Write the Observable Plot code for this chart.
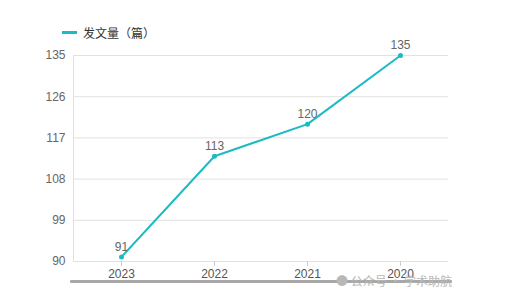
<!DOCTYPE html>
<html><head><meta charset="utf-8">
<script src="https://cdn.jsdelivr.net/npm/d3@7"></script>
<script src="https://cdn.jsdelivr.net/npm/@observablehq/plot@0.6"></script>
<style>
body{margin:0;background:#fff;font-family:"Liberation Sans","Noto Sans CJK SC",sans-serif;}
#wrap{position:relative;width:515px;height:304px;}
#legend{position:absolute;left:62px;top:24px;font-size:12px;color:#333;display:flex;align-items:center;font-family:"Noto Sans CJK SC",sans-serif;}
#legend .sw{width:15px;height:3px;background:#1cbac4;margin-right:6px;}
#bar{position:absolute;left:70px;top:280px;width:382px;height:3px;background:#a8a8a8;border-radius:1px;}
#wm{position:absolute;left:336px;top:272px;font-size:12px;color:#b8b8b8;font-family:"Noto Sans CJK SC",sans-serif;}
</style></head><body>
<div id="wrap">
<div id="legend"><div class="sw"></div><span>发文量（篇）</span></div>
<div id="bar"></div>
<div id="wm">● 公众号 · 学术助航</div>
</div>
<script>
const years = ["2023","2022","2021","2020"];
const counts = [91,113,120,135];
const yTicks = [90,99,108,117,126,135];
const seriesName = "发文量（篇）";
const data = years.map((y,i)=>({year:y,count:counts[i]}));
const color = "#1cbac4";
const chart = Plot.plot({
  width:515, height:304,
  marginLeft:73, marginRight:67, marginTop:55, marginBottom:43,
  style:{fontFamily:"Liberation Sans, Noto Sans CJK SC, sans-serif",fontSize:"12px",background:"transparent"},
  x:{type:"point",domain:years,padding:0.5,label:null},
  y:{domain:[90,135],ticks:yTicks,label:null},
  marks:[
    Plot.ruleY(yTicks,{stroke:"#e2e2e2",strokeWidth:1}),
    Plot.frame({anchor:"left",stroke:"#e2e2e2"}),
    Plot.axisY({ticks:yTicks,tickSize:0,tickPadding:8,fill:"#666",fontSize:12,label:null}),
    Plot.axisX({tickSize:5,stroke:"#ccc",fill:"#555",fontSize:12,tickPadding:3,label:null}),
    Plot.line(data,{x:"year",y:"count",stroke:color,strokeWidth:2}),
    Plot.dot(data,{x:"year",y:"count",fill:color,r:2.5}),
    Plot.text(data,{x:"year",y:"count",text:d=>String(d.count),dy:-10,fill:"#666",fontSize:12})
  ]
});
document.getElementById("wrap").prepend(chart);
chart.style.position="absolute";chart.style.left="0";chart.style.top="0";
</script>
</body></html>
